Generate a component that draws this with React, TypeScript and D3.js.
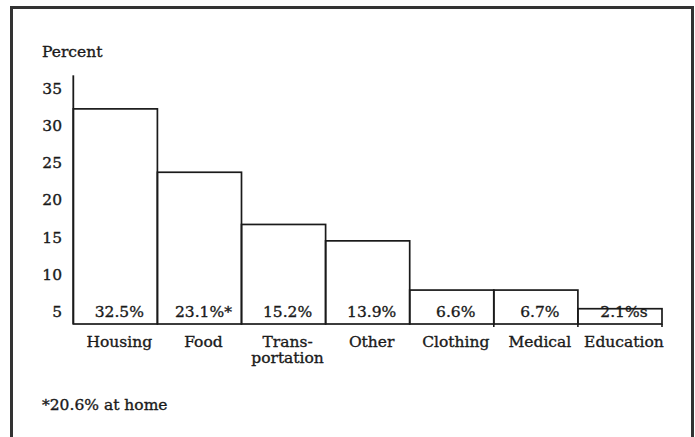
import * as d3 from "d3";

const categories = ["Housing", "Food", "Transportation", "Other", "Clothing", "Medical", "Education"];
const categoryLines = [["Housing"], ["Food"], ["Trans-", "portation"], ["Other"], ["Clothing"], ["Medical"], ["Education"]];
// bar heights as drawn against the axis
const barValues = [32.2, 23.7, 16.7, 14.5, 7.9, 7.9, 5.4];
const barLabels = ["32.5%", "23.1%*", "15.2%", "13.9%", "6.6%", "6.7%", "2.1%s"];
const yTicks = [5, 10, 15, 20, 25, 30, 35];

const W = 695;
const H = 437;
const FONT = "'DejaVu Serif', serif";
const INK = "#1a1a1a";
const FS = 15.5;

export default function App() {
  const y = d3.scaleLinear().domain([5, 35]).range([311.7, 88]);
  const x = d3.scaleBand<string>().domain(categories).range([73.3, 662]).padding(0);
  const base = y(3.35);
  const axisTop = y(36.7);
  const mid = (c: string) => x(c)! + x.bandwidth() / 2 + 4;

  const textStyle = { fontSize: FS, fill: INK, stroke: INK, strokeWidth: 0.35 };

  return (
    <svg
      width={W}
      height={H}
      style={{ position: "absolute", left: 0, top: 0, background: "#fff" }}
      fontFamily={FONT}
    >
      {/* frame, open at the bottom */}
      <path d={`M11.5,${H + 5} V7.5 H692.5 V${H + 5}`} fill="none" stroke="#333" strokeWidth={3} />

      <text x={42} y={56.5} {...textStyle}>Percent</text>

      {yTicks.map((t) => (
        <text key={t} x={62} y={y(t) + 5.6} textAnchor="end" {...textStyle}>
          {t}
        </text>
      ))}

      <line x1={x.range()[0]} x2={x.range()[0]} y1={axisTop} y2={base} stroke={INK} strokeWidth={1.8} />

      {categories.map((c, i) => (
        <rect
          key={c}
          x={x(c)!}
          y={y(barValues[i])}
          width={x.bandwidth()}
          height={base - y(barValues[i])}
          fill="none"
          stroke={INK}
          strokeWidth={1.7}
        />
      ))}

      {/* small ticks below the baseline at the right-hand bars */}
      {categories.slice(5).map((c) => (
        <line key={c} x1={x(c)!} x2={x(c)!} y1={base} y2={base + 3} stroke={INK} strokeWidth={1.6} />
      ))}
      <line x1={x.range()[1]} x2={x.range()[1]} y1={base} y2={base + 3} stroke={INK} strokeWidth={1.6} />

      {categories.map((c, i) => (
        <text key={c + "v"} x={mid(c)} y={317.3} textAnchor="middle" {...textStyle}>
          {barLabels[i]}
        </text>
      ))}

      {categories.map((c, i) => (
        <text key={c + "c"} x={mid(c)} y={346.5} textAnchor="middle" {...textStyle}>
          {categoryLines[i].map((l, j) => (
            <tspan key={j} x={mid(c)} dy={j === 0 ? 0 : 16.5}>
              {l}
            </tspan>
          ))}
        </text>
      ))}

      <text x={42} y={410} {...textStyle}>*20.6% at home</text>
    </svg>
  );
}
